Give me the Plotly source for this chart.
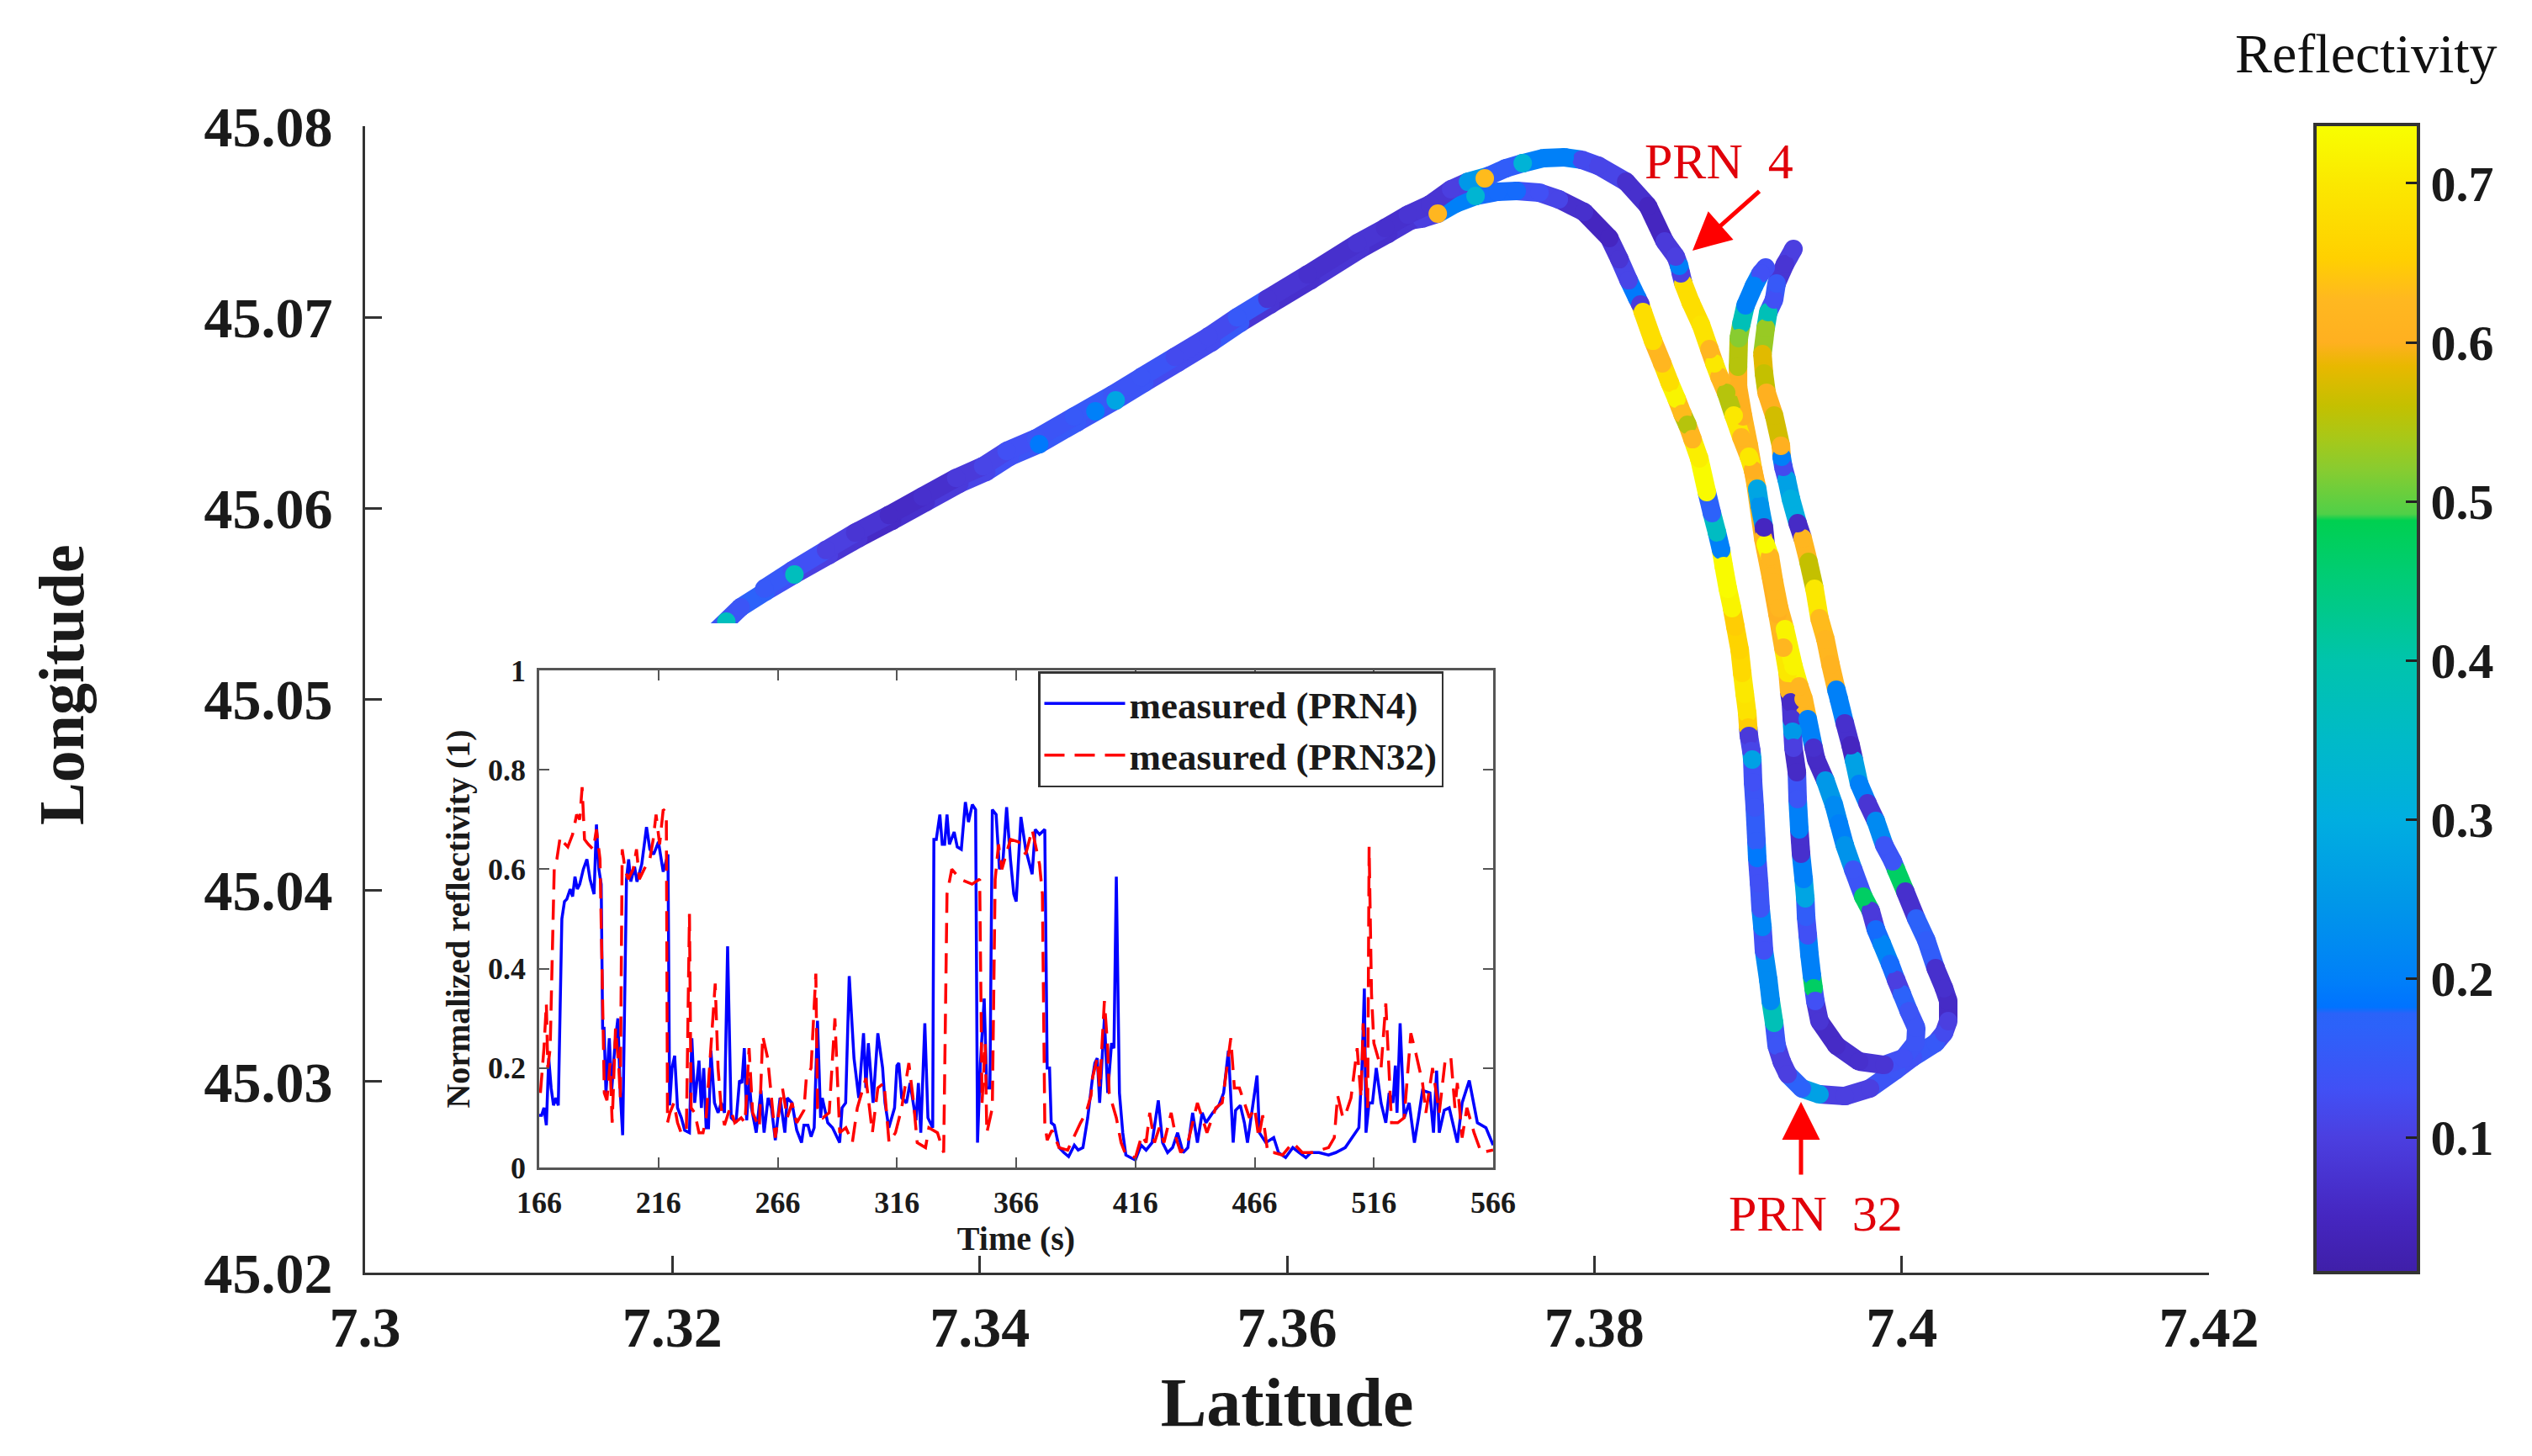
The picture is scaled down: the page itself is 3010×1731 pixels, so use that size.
import plotly.graph_objects as go

W, H = 3010, 1731
ML, MR, MT, MB = 434, 384, 150, 218

# ---- colour scale of the bar (value, colour) ----
cb_vals = [.015, .05, .1, .13, .17, .178, .182, .2, .25, .3, .35, .4, .45, .488, .492, .52, .54, .56,
           .585, .6, .627, .653, .7, .737]
cb_cols = ["#3f1fa8", "#4526c0", "#4b3fe0", "#4150f5", "#2c62fa", "#2a63f8", "#0073ff", "#0080f8",
           "#0098e8", "#00aee0", "#00bac8", "#00c4ac", "#00cc78", "#00d050", "#50d048", "#88cc30",
           "#a8c818", "#c4c000", "#e8b800", "#ffb020", "#ffb820", "#ffd000", "#fbe800", "#f8ff00"]

# ---- trajectory: outbound leg, lower side of the band ----
shared_lat = [7.32274, 7.32444, 7.32608, 7.32794, 7.33018, 7.33210, 7.33429, 7.33648, 7.33867, 7.34042, 7.34195,
              7.34387, 7.34633, 7.34885, 7.35071, 7.35290, 7.35509, 7.35695, 7.35892, 7.36154, 7.36477, 7.36658, 7.36806]
shared_lon = [45.05350, 45.05482, 45.05566, 45.05654, 45.05755, 45.05843, 45.05935, 45.06032, 45.06129, 45.06191,
              45.06270, 45.06336, 45.06450, 45.06565, 45.06657, 45.06763, 45.06869, 45.06970, 45.07067, 45.07194,
              45.07357, 45.07437, 45.07507]
shared_val = [.13, .14, .17, .13, .10, .08, .06, .07, .09, .11, .13, .14, .15, .14, .14, .12, .12, .15, .08, .07, .08, .07, .08]

# ---- trajectory: outbound leg, upper side of the band ----
upper_lat = [7.32598, 7.32780, 7.33000, 7.33190, 7.33409, 7.33628, 7.33847, 7.34022, 7.34175, 7.34367, 7.34613,
             7.34865, 7.35051, 7.35270, 7.35489, 7.35675, 7.35872, 7.36134, 7.36457, 7.36638, 7.36786]
upper_lon = [45.05580, 45.05675, 45.05782, 45.05873, 45.05965, 45.06062, 45.06159, 45.06221, 45.06300, 45.06366,
             45.06480, 45.06595, 45.06687, 45.06793, 45.06899, 45.07000, 45.07097, 45.07224, 45.07387, 45.07467, 45.07537]
upper_val = [.15, .13, .10, .08, .06, .07, .09, .11, .13, .14, .15, .14, .14, .12, .12, .15, .08, .07, .08, .07, .08]

# ---- PRN 32 track ----
a_lat = [7.36877, 7.36981, 7.37096, 7.37227, 7.37369, 7.37495, 7.37643, 7.37769, 7.37933, 7.38097, 7.38163, 7.38223,
         7.38278, 7.38300, 7.38316, 7.38382, 7.38442, 7.38491, 7.38535, 7.38573, 7.38606, 7.38639, 7.38683, 7.38732,
         7.38765, 7.38798, 7.38825, 7.38842, 7.38869, 7.38896, 7.38918, 7.38946, 7.38962, 7.38979, 7.38995, 7.39001,
         7.39006, 7.39022, 7.39028, 7.39033, 7.39044, 7.39055, 7.39060, 7.39072, 7.39082, 7.39094, 7.39104, 7.39132,
         7.39148, 7.39170, 7.39186, 7.39219, 7.39258, 7.39351, 7.39465, 7.39630, 7.39794, 7.39964, 7.40073, 7.40221,
         7.40276, 7.40303, 7.40303, 7.40276, 7.40221, 7.40161, 7.40095, 7.40024, 7.39964, 7.39942, 7.39887, 7.39832,
         7.39778, 7.39723, 7.39690, 7.39668, 7.39630, 7.39591, 7.39575, 7.39537, 7.39504, 7.39465, 7.39433, 7.39394,
         7.39356, 7.39323, 7.39279, 7.39252, 7.39230, 7.39219, 7.39214, 7.39170, 7.39121, 7.39104, 7.39094, 7.39115,
         7.39132, 7.39170, 7.39186, 7.39241, 7.39296]
a_lon = [45.07516, 45.07542, 45.07595, 45.07635, 45.07657, 45.07661, 45.07652, 45.07617, 45.07551, 45.07415, 45.07304,
         45.07194, 45.07102, 45.07067, 45.07027, 45.06877, 45.06759, 45.06657, 45.06574, 45.06495, 45.06437, 45.06362,
         45.06261, 45.06085, 45.05975, 45.05874, 45.05781, 45.05698, 45.05579, 45.05478, 45.05381, 45.05258, 45.05139,
         45.05029, 45.04927, 45.04853, 45.04809, 45.04729, 45.04685, 45.04566, 45.04434, 45.04258, 45.04170, 45.04038,
         45.03906, 45.03809, 45.03686, 45.03532, 45.03422, 45.03307, 45.03189, 45.03105, 45.03039, 45.02964, 45.02933,
         45.02924, 45.02964, 45.03061, 45.03127, 45.03202, 45.03255, 45.03316, 45.03422, 45.03488, 45.03594, 45.03739,
         45.03853, 45.03994, 45.04109, 45.04153, 45.04236, 45.04364, 45.04456, 45.04558, 45.04681, 45.04760, 45.04875,
         45.05002, 45.05051, 45.05183, 45.05315, 45.05425, 45.05579, 45.05720, 45.05843, 45.05922, 45.06050, 45.06151,
         45.06217, 45.06270, 45.06327, 45.06486, 45.06605, 45.06706, 45.06807, 45.06944, 45.07027, 45.07093, 45.07177,
         45.07278, 45.07357]
a_val = [.1, .1, .2, .2, .18, .18, .13, .11, .07, .05, .08, .11, .19, .09, .68, .68, .62, .68, .72, .63, .55, .62, .71, .73,
         .17, .36, .2, .73, .73, .72, .65, .66, .67, .7, .69, .65, .09, .11, .27, .13, .14, .16, .19, .13, .14, .21, .13, .22,
         .22, .38, .14, .1, .1, .17, .27, .1, .1, .14, .13, .15, .12, .1, .06, .07, .07, .16, .17, .07, .47, .14, .14, .22, .08,
         .2, .27, .05, .07, .2, .2, .61, .62, .63, .7, .56, .62, .06, .3, .27, .12, .2, .6, .57, .6, .56, .58, .53, .38, .13,
         .15, .08, .1]

# ---- PRN 4 track ----
b_lat = [7.36931, 7.37068, 7.37178, 7.37315, 7.37424, 7.37534, 7.37670, 7.37807, 7.37917, 7.38026, 7.38207, 7.38349,
         7.38458, 7.38530, 7.38552, 7.38563, 7.38579, 7.38628, 7.38694, 7.38749, 7.38781, 7.38814, 7.38858, 7.38907,
         7.38957, 7.39006, 7.39033, 7.39060, 7.39077, 7.39104, 7.39115, 7.39143, 7.39170, 7.39203, 7.39241, 7.39296,
         7.39334, 7.39362, 7.39389, 7.39427, 7.39444, 7.39504, 7.39559, 7.39591, 7.39630, 7.39685, 7.39750, 7.39799,
         7.39832, 7.39871, 7.39925, 7.39964, 7.40002, 7.40046, 7.40095, 7.40090, 7.40013, 7.39887, 7.39723, 7.39575,
         7.39465, 7.39438, 7.39427, 7.39416, 7.39400, 7.39389, 7.39378, 7.39373, 7.39362, 7.39345, 7.39334, 7.39323,
         7.39318, 7.39296, 7.39290, 7.39285, 7.39279, 7.39268, 7.39258, 7.39230, 7.39192, 7.39148, 7.39099, 7.39049,
         7.39006, 7.38968, 7.38935, 7.38935, 7.38940, 7.38957, 7.38984, 7.39039, 7.39082, 7.39115]
b_lon = [45.07591, 45.07670, 45.07709, 45.07740, 45.07780, 45.07806, 45.07833, 45.07837, 45.07824, 45.07793, 45.07709,
         45.07582, 45.07397, 45.07318, 45.07269, 45.07230, 45.07177, 45.07076, 45.06961, 45.06833, 45.06759, 45.06688,
         45.06605, 45.06486, 45.06371, 45.06270, 45.06200, 45.06103, 45.06015, 45.05900, 45.05812, 45.05746, 45.05614,
         45.05478, 45.05368, 45.05174, 45.05068, 45.05002, 45.04897, 45.04747, 45.04685, 45.04575, 45.04448, 45.04351,
         45.04236, 45.04109, 45.03968, 45.03893, 45.03796, 45.03721, 45.03616, 45.03532, 45.03457, 45.03369, 45.03281,
         45.03202, 45.03123, 45.03087, 45.03105, 45.03189, 45.03316, 45.03422, 45.03488, 45.03554, 45.03664, 45.03765,
         45.03862, 45.03959, 45.04060, 45.04192, 45.04320, 45.04478, 45.04619, 45.04747, 45.04831, 45.04897, 45.04985,
         45.05042, 45.05139, 45.05271, 45.05447, 45.05645, 45.05843, 45.06129, 45.06327, 45.06481, 45.06635, 45.06741,
         45.06891, 45.06966, 45.07062, 45.07164, 45.07230, 45.07260]
b_val = [.08, .1, .25, .16, .16, .2, .2, .2, .12, .11, .07, .05, .09, .1, .2, .1, .68, .68, .69, .62, .7, .62, .55, .7, .62,
         .7, .6, .28, .24, .05, .73, .62, .62, .62, .72, .72, .62, .62, .2, .07, .06, .25, .22, .2, .24, .14, .47, .09, .18,
         .21, .18, .1, .17, .14, .14, .14, .13, .08, .07, .06, .08, .13, .47, .2, .2, .13, .16, .28, .2, .07, .2, .14, .06, .1,
         .25, .08, .06, .62, .7, .62, .6, .62, .62, .62, .62, .6, .6, .55, .52, .38, .2, .2, .13, .13]

# ---- single bright samples on the common section and the top arc ----
spot_lat = [7.32351, 7.32794, 7.34387, 7.34753, 7.34885, 7.36981, 7.37227, 7.37287, 7.37534]
spot_lon = [45.05407, 45.05654, 45.06336, 45.06508, 45.06565, 45.07542, 45.07635, 45.07727, 45.07806]
spot_val = [.37, .37, .19, .2, .28, .62, .33, .63, .32]

# ---- inset: normalized reflectivity against time ----
t4 = [166, 167, 168, 169, 170, 171, 172, 173, 174, 175.5, 176.6, 177.6, 179, 180, 181, 182, 183, 184.5, 186, 187.3, 189,
      190, 191, 192, 192.6, 193.2, 194, 195.4, 196.4, 197.8, 199, 200, 201, 202.6, 203.5, 204.4, 206, 207, 209, 211, 212.4,
      214, 216, 218, 220, 220.7, 221.7, 222.8, 224, 225.6, 227, 229, 230, 231.2, 233, 234, 235, 236, 237, 238, 239.5, 241,
      242.3, 243.7, 245, 246.5, 248.5, 250, 251, 252, 253, 254, 255, 257, 259, 260.3, 262, 263.4, 265, 267, 269, 270, 272,
      274, 276, 277, 278.7, 280, 281.3, 282.7, 284, 284.7, 287, 289, 292, 293, 294.5, 296, 298, 300, 302, 303, 304, 306,
      308, 310, 311, 312.6, 315, 316, 316.8, 318, 320, 321.5, 324, 325, 326, 327.7, 329, 331, 331.5, 332.5, 334, 335, 336,
      337, 338, 340, 341.3, 343, 344.7, 346, 347.6, 349, 349.8, 351, 352.6, 353.7, 355, 356, 357.6, 359, 360.5, 362, 363.6,
      365, 366, 368, 370, 372.7, 374, 375.8, 378, 379, 380, 380.7, 382, 384, 386, 388, 390.4, 392, 394, 396, 398, 399, 400,
      401, 403, 404.4, 406, 407, 408, 409.3, 410.7, 412, 414, 416, 418.4, 420.5, 423, 425.6, 427.4, 429.5, 431.6, 433.7,
      436, 438, 440, 442, 444, 445.6, 448.4, 451, 453, 455, 457, 458, 460, 461.7, 463, 465, 467, 468, 470.7, 474, 476, 479,
      482, 484.7, 487.5, 489.6, 493, 497, 500, 504, 507, 509.7, 511, 512, 512.7, 514, 515.4, 517, 519, 521, 522.4, 524, 525,
      525.7, 527, 528.7, 530.8, 533, 534.7, 536.4, 539.5, 541, 542.3, 543.4, 545.5, 547.6, 551, 553, 556, 558, 559.4, 563, 566]
v4 = [.105, .105, .12, .085, .22, .16, .125, .14, .125, .50, .535, .54, .56, .545, .585, .56, .57, .60, .62, .58, .55,
      .69, .60, .57, .28, .28, .15, .26, .155, .25, .30, .15, .065, .58, .62, .575, .605, .575, .61, .685, .64,
      .63, .655, .595, .63, .125, .20, .225, .12, .10, .075, .07, .26, .13, .215, .12, .20, .08, .08, .235, .13, .11,
      .13, .11, .445, .10, .09, .175, .17, .24, .095, .18, .12, .07, .155, .07, .14, .12, .055, .14, .07, .14, .13,
      .075, .05, .085, .085, .062, .08, .295, .10, .14, .09, .08, .05, .12, .13, .385, .22, .14, .27, .16, .25, .13,
      .27, .2, .13, .08, .12, .205, .21, .14, .13, .17, .095, .17, .07, .29, .10, .08, .66, .66, .71, .65, .65,
      .71, .65, .675, .645, .64, .735, .695, .73, .72, .05, .21, .34, .16, .16, .72, .71, .60, .62, .725, .62,
      .55, .535, .705, .64, .59, .68, .67, .68, .2, .2, .09, .085, .04, .03, .022, .045, .035, .04, .10, .18, .21, .22,
      .13, .30, .15, .25, .24, .585, .15, .07, .025, .02, .015, .045, .035, .05, .135, .05, .03, .04, .07,
      .03, .04, .11, .05, .11, .09, .11, .125, .15, .235, .05, .115, .125, .09, .05, .12, .185, .07, .05, .06, .03, .02,
      .04, .03, .02, .03, .03, .025, .03, .04, .06, .08, .2, .36, .07, .13, .13, .20, .13, .09, .15, .13, .205,
      .11, .29, .10, .13, .05, .10, .155, .15, .07, .195, .07, .115, .12, .05, .13, .175, .12, .09, .08, .045]
t32 = [166.5, 168, 169, 169.6, 170.6, 171.3, 172.3, 173.4, 174.8, 176, 178, 180, 181.7, 183, 184, 185, 186.6, 188.7, 190,
       191.5, 192, 193.3, 194.4, 195.7, 196.6, 198, 199.4, 200, 200.8, 202, 203.3, 205.4, 206.8, 208, 210, 212.4, 213.8,
       215, 216.5, 218, 219.3, 219.8, 220.8, 222.5, 224, 225.5, 227.7, 229, 229.7, 231.2, 233, 234.7, 236, 238, 239.8, 241,
       242.3, 243.7, 246, 248, 250.7, 252.3, 254, 255.5, 258.3, 259.7, 261.8, 263, 265, 268, 270, 272, 274, 277, 278, 280,
       282, 282.7, 285, 287.6, 290, 292, 294.6, 297.3, 299.4, 303, 305.7, 308, 310.6, 312.7, 315.4, 318, 321, 323, 324.5,
       328, 329.4, 333, 335.6, 337, 339, 342.6, 347.5, 350.7, 351.7, 353, 353.7, 356, 357.2, 358.6, 360, 363.6, 367, 370,
       372.7, 375.8, 377, 378, 379, 381, 384, 387.6, 391, 393, 395.3, 397.4, 398, 400, 401, 403, 404.4, 405, 408, 410, 412,
       416, 418.7, 420.5, 422, 424, 426, 428, 431, 433, 435, 438, 442, 444, 446, 449.7, 452.4, 456, 457.5, 459.6, 461.7,
       463.8, 466, 467.7, 469.4, 471.5, 474, 477.7, 482, 486, 490, 497, 499.4, 500.8, 503, 504, 506.4, 509, 510.6, 511.5,
       513.4, 514, 515, 516, 519, 521, 523.4, 526, 528.7, 531.5, 533.6, 536.4, 537.8, 540.6, 543.4, 546, 548.3, 550, 551,
       553, 555, 558, 561, 566]
v32 = [.15, .24, .33, .20, .24, .37, .60, .62, .665, .655, .645, .67, .71, .70, .765, .66, .65, .64, .68,
       .62, .50, .15, .135, .21, .09, .28, .2, .14, .64, .60, .58, .60, .64, .58, .60, .62, .66,
       .71, .65, .72, .715, .09, .11, .13, .09, .07, .07, .51, .12, .11, .07, .07, .10, .24, .37, .20,
       .12, .085, .12, .09, .10, .09, .24, .11, .08, .265, .22, .16, .06, .16, .10, .13, .09, .115, .18, .20,
       .39, .12, .10, .11, .30, .07, .08, .05, .12, .18, .07, .16, .17, .05, .07, .12, .21, .13, .05,
       .04, .08, .07, .03, .55, .60, .58, .57, .58, .13, .25, .07, .12, .58, .65, .60, .66, .655, .63,
       .68, .61, .55, .09, .055, .075, .04, .035, .07, .09, .11, .145, .18, .22, .16, .335, .24, .15, .10, .05, .025,
       .02, .065, .05, .11, .05, .08, .05, .11, .06, .03, .05, .13, .10, .07, .12, .13, .26, .16, .16, .13,
       .10, .12, .06, .105, .03, .03, .025, .05, .03, .03, .04, .06, .145, .10, .105, .14, .24, .14, .29,
       .12, .645, .35, .25, .20, .33, .09, .09, .10, .27, .23, .17, .11, .20, .11, .22, .22, .12, .17,
       .06, .12, .07, .03, .035]

lat_ticks = [7.3, 7.32, 7.34, 7.36, 7.38, 7.4, 7.42]
lat_labels = ["7.3", "7.32", "7.34", "7.36", "7.38", "7.4", "7.42"]
lon_ticks = [45.02, 45.03, 45.04, 45.05, 45.06, 45.07, 45.08]
lon_labels = ["45.02", "45.03", "45.04", "45.05", "45.06", "45.07", "45.08"]
time_ticks = [166, 216, 266, 316, 366, 416, 466, 516, 566]
refl_ticks = [0, .2, .4, .6, .8, 1]
refl_labels = ["0", "0.2", "0.4", "0.6", "0.8", "1"]
cb_ticks = [.1, .2, .3, .4, .5, .6, .7]

SERIF = "Liberation Serif"
DOT = 22
CMIN, CMAX = cb_vals[0], cb_vals[-1]
scale = [[(v - CMIN) / (CMAX - CMIN), c] for v, c in zip(cb_vals, cb_cols)]
PW, PH = W - ML - MR, H - MT - MB


def px(x):
    return (x - ML) / PW


def py(y):
    return (H - MB - y) / PH


def colour_of(v):
    for i in range(len(cb_vals) - 1):
        if v <= cb_vals[i + 1]:
            f = max(0, (v - cb_vals[i]) / (cb_vals[i + 1] - cb_vals[i]))
            c0, c1 = cb_cols[i], cb_cols[i + 1]
            rgb = [round(int(c0[k:k + 2], 16) * (1 - f) + int(c1[k:k + 2], 16) * f) for k in (1, 3, 5)]
            return "rgb(%d,%d,%d)" % tuple(rgb)
    return cb_cols[-1]


fig = go.Figure()


def add_track(lat, lon, val):
    for i in range(len(lat) - 1):
        fig.add_trace(go.Scatter(x=lat[i:i + 2], y=lon[i:i + 2], mode="lines",
                                 line=dict(color=colour_of(val[i + 1]), width=DOT),
                                 hoverinfo="skip", showlegend=False))
    fig.add_trace(go.Scatter(x=lat, y=lon, mode="markers", showlegend=False,
                             marker=dict(size=DOT, color=val, coloraxis="coloraxis", line_width=0)))


add_track(shared_lat + a_lat, shared_lon + a_lon, shared_val + a_val)
add_track(b_lat[::-1] + upper_lat[::-1], b_lon[::-1] + upper_lon[::-1], b_val[::-1] + upper_val[::-1])
fig.add_trace(go.Scatter(x=spot_lat, y=spot_lon, mode="markers", showlegend=False,
                         marker=dict(size=DOT, color=spot_val, coloraxis="coloraxis", line_width=0)))

fig.add_trace(go.Scatter(x=t4, y=v4, mode="lines", name="measured (PRN4)", xaxis="x2", yaxis="y2",
                         line=dict(color="#0000ff", width=3.5)))
fig.add_trace(go.Scatter(x=t32, y=v32, mode="lines", name="measured (PRN32)", xaxis="x2", yaxis="y2",
                         line=dict(color="#ff0000", width=3.5, dash="24px,12px")))

bold = dict(family=SERIF, color="#1a1a1a", weight=700)

fig.update_layout(
    width=W, height=H, autosize=False, margin=dict(l=ML, r=MR, t=MT, b=MB, pad=0),
    paper_bgcolor="white", plot_bgcolor="white",
    font=dict(family=SERIF, color="#111111"),
    xaxis=dict(domain=[0, 1], range=[7.3, 7.42], anchor="y",
               tickmode="array", tickvals=lat_ticks, ticktext=lat_labels,
               ticks="inside", ticklen=20, tickwidth=3, tickcolor="#333333",
               showline=True, linecolor="#333333", linewidth=3, showgrid=False, zeroline=False,
               tickfont=dict(size=68, **bold), ticklabelstandoff=3,
               title=dict(text="Latitude", font=dict(size=82, **bold), standoff=24)),
    yaxis=dict(domain=[0, 1], range=[45.02, 45.08], anchor="x",
               tickmode="array", tickvals=lon_ticks, ticktext=lon_labels,
               ticks="inside", ticklen=20, tickwidth=3, tickcolor="#333333",
               showline=True, linecolor="#333333", linewidth=3, showgrid=False, zeroline=False,
               tickfont=dict(size=68, **bold), ticklabelstandoff=22),
    xaxis2=dict(domain=[px(641), px(1775)], range=[166, 566], anchor="y2",
                tickmode="array", tickvals=time_ticks,
                ticks="inside", ticklen=12, tickwidth=2, tickcolor="#555555", mirror="ticks",
                showline=True, linecolor="#555555", linewidth=2.5, showgrid=False, zeroline=False,
                tickfont=dict(size=36, **bold), ticklabelstandoff=8,
                title=dict(text="Time (s)", font=dict(size=40, **bold), standoff=6)),
    yaxis2=dict(domain=[py(1388), py(797)], range=[0, 1], anchor="x2",
                tickmode="array", tickvals=refl_ticks, ticktext=refl_labels,
                ticks="inside", ticklen=12, tickwidth=2, tickcolor="#555555", mirror="ticks",
                showline=True, linecolor="#555555", linewidth=2.5, showgrid=False, zeroline=False,
                tickfont=dict(size=36, **bold), ticklabelstandoff=6,
                title=dict(text="Normalized reflectivity (1)", font=dict(size=40, **bold), standoff=10)),
    coloraxis=dict(cmin=CMIN, cmax=CMAX, colorscale=scale,
                   colorbar=dict(x=px(2752), xanchor="left", y=py(1513), yanchor="bottom",
                                 len=1365, lenmode="pixels", thickness=123, thicknessmode="pixels",
                                 xpad=0, ypad=0, outlinewidth=4, outlinecolor="#333333",
                                 tickmode="array", tickvals=cb_ticks, ticktext=["0.1", "0.2", "0.3", "0.4", "0.5", "0.6", "0.7"],
                                 ticks="inside", ticklen=17, tickwidth=3, tickcolor="#222222",
                                 tickprefix="\u00a0\u00a0", tickfont=dict(size=60, **bold))),
    legend=dict(x=px(1234), y=py(798), xanchor="left", yanchor="top", bgcolor="white",
                bordercolor="#333333", borderwidth=2.5, itemwidth=96, tracegroupgap=0,
                entrywidth=410, entrywidthmode="pixels",
                font=dict(size=45, **bold)),
    shapes=[dict(type="rect", xref="paper", yref="paper", x0=px(800), x1=px(1000), y0=py(790), y1=py(741),
                 fillcolor="white", line_width=0, layer="above")],
    annotations=[
        dict(text="Longitude", xref="paper", yref="paper", x=px(73), y=py(814), textangle=-90,
             showarrow=False, xanchor="center", yanchor="middle", font=dict(size=76, **bold)),
        dict(text="Reflectivity", xref="paper", yref="paper", x=px(2813), y=py(63),
             showarrow=False, xanchor="center", yanchor="middle", font=dict(size=66, family=SERIF, color="#111111")),
        dict(text="PRN\u00a0\u00a04", xref="paper", yref="paper", x=px(2043), y=py(192),
             showarrow=False, xanchor="center", yanchor="middle", font=dict(size=60, family=SERIF, color="#e0000a")),
        dict(text="PRN\u00a0\u00a032", xref="paper", yref="paper", x=px(2158), y=py(1443),
             showarrow=False, xanchor="center", yanchor="middle", font=dict(size=60, family=SERIF, color="#e0000a")),
        dict(text="", xref="paper", yref="paper", x=px(2012), y=py(298), ax=81, ay=-72, axref="pixel", ayref="pixel",
             showarrow=True, arrowhead=2, arrowsize=1.8, arrowwidth=5, arrowcolor="#ff0000"),
        dict(text="", xref="paper", yref="paper", x=px(2141), y=py(1310), ax=0, ay=88, axref="pixel", ayref="pixel",
             showarrow=True, arrowhead=2, arrowsize=1.8, arrowwidth=5, arrowcolor="#ff0000"),
    ],
)

fig.write_html("out.html", config={"displayModeBar": False},
               post_script="document.body.style.margin='0';document.body.style.overflow='hidden';")
